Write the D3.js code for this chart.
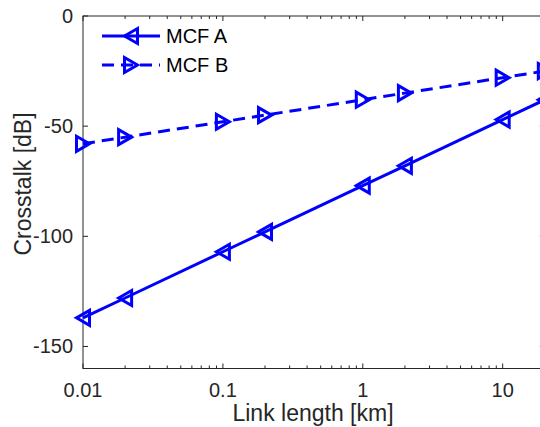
<!DOCTYPE html>
<html>
<head>
<meta charset="utf-8">
<script src="https://cdn.jsdelivr.net/npm/d3@7/dist/d3.min.js"></script>
<style>
  html, body { margin: 0; padding: 0; background: #fff; }
  svg { display: block; font-family: "Liberation Sans", Arial, sans-serif; }
</style>
</head>
<body>
<svg id="chart" width="540" height="427"></svg>
<script>
// ---- data ----
const linkLength = [0.01, 0.02, 0.1, 0.2, 1, 2, 10, 20];
const mcfA = [-137, -128, -107, -98, -77, -68, -47, -38];
const mcfB = [-58, -55, -48, -45, -38, -35, -28, -25];
const seriesNames = ["MCF A", "MCF B"];
const xTickValues = [0.01, 0.1, 1, 10];
const xTickLabels = ["0.01", "0.1", "1", "10"];
const yTickValues = [-150, -100, -50, 0];
const yTickLabels = ["-150", "-100", "-50", "0"];

// ---- layout ----
const svg = d3.select("#chart");
const L = 83, R = 544.8, T = 16, B = 368.5;
const x = d3.scaleLog().domain([0.01, 20]).range([L, R]);
const y = d3.scaleLinear().domain([-160, 0]).range([B, T]);
const axisColor = "#262626";
const blue = "#0000ff";

// minor ticks
const minor = [];
[0.01, 0.1, 1, 10].forEach(d => { for (let k = 2; k <= 9; k++) { const v = d * k; if (v <= 20) minor.push(v); } });

const g = svg.append("g");

// box
g.append("rect").attr("x", L).attr("y", T).attr("width", R - L).attr("height", B - T)
  .attr("fill", "none").attr("stroke", axisColor).attr("stroke-width", 1);

// x ticks (bottom and top, inward)
xTickValues.forEach(v => {
  g.append("line").attr("x1", x(v)).attr("x2", x(v)).attr("y1", B).attr("y2", B - 5).attr("stroke", axisColor);
  g.append("line").attr("x1", x(v)).attr("x2", x(v)).attr("y1", T).attr("y2", T + 5).attr("stroke", axisColor);
});
minor.forEach(v => {
  g.append("line").attr("x1", x(v)).attr("x2", x(v)).attr("y1", B).attr("y2", B - 3).attr("stroke", axisColor);
  g.append("line").attr("x1", x(v)).attr("x2", x(v)).attr("y1", T).attr("y2", T + 3).attr("stroke", axisColor);
});
xTickValues.forEach((v, i) => {
  g.append("text").attr("x", x(v)).attr("y", 397).attr("text-anchor", "middle")
    .attr("font-size", 20).attr("fill", axisColor).text(xTickLabels[i]);
});

// y ticks (left and right, inward)
yTickValues.forEach((v, i) => {
  g.append("line").attr("x1", L).attr("x2", L + 5).attr("y1", y(v)).attr("y2", y(v)).attr("stroke", axisColor);
  g.append("line").attr("x1", R).attr("x2", R - 5).attr("y1", y(v)).attr("y2", y(v)).attr("stroke", axisColor);
  g.append("text").attr("x", 73).attr("y", y(v)).attr("dy", "0.35em").attr("text-anchor", "end")
    .attr("font-size", 20).attr("fill", axisColor).text(yTickLabels[i]);
});

// axis labels
g.append("text").attr("x", 313).attr("y", 421).attr("text-anchor", "middle")
  .attr("font-size", 23).attr("fill", axisColor).text("Link length [km]");
g.append("text").attr("transform", "translate(31,184) rotate(-90)").attr("text-anchor", "middle")
  .attr("font-size", 23).attr("fill", axisColor).text("Crosstalk [dB]");

// markers
const triLeft = "M-6.5,0 L6.5,-7.5 L6.5,7.5 Z";
const triRight = "M6.5,0 L-6.5,-7.5 L-6.5,7.5 Z";

const line = d3.line().x(d => x(d[0])).y(d => y(d[1]));
const dataA = linkLength.map((v, i) => [v, mcfA[i]]);
const dataB = linkLength.map((v, i) => [v, mcfB[i]]);

const plot = g.append("g");
plot.append("path").datum(dataA).attr("d", line).attr("fill", "none")
  .attr("stroke", blue).attr("stroke-width", 3);
plot.append("path").datum(dataB).attr("d", line).attr("fill", "none")
  .attr("stroke", blue).attr("stroke-width", 3).attr("stroke-dasharray", "12,7");

plot.selectAll(".mA").data(dataA).enter().append("path")
  .attr("transform", d => `translate(${x(d[0])},${y(d[1])})`).attr("d", triLeft)
  .attr("fill", "none").attr("stroke", blue).attr("stroke-width", 3);
plot.selectAll(".mB").data(dataB).enter().append("path")
  .attr("transform", d => `translate(${x(d[0])},${y(d[1])})`).attr("d", triRight)
  .attr("fill", "none").attr("stroke", blue).attr("stroke-width", 3);

// legend
const leg = g.append("g");
const legY = [36, 65];
seriesNames.forEach((name, i) => {
  leg.append("line").attr("x1", 102).attr("x2", 160).attr("y1", legY[i]).attr("y2", legY[i])
    .attr("stroke", blue).attr("stroke-width", 3).attr("stroke-dasharray", i === 1 ? "12,7" : null);
  leg.append("path").attr("transform", `translate(131,${legY[i]})`).attr("d", i === 0 ? triLeft : triRight)
    .attr("fill", "none").attr("stroke", blue).attr("stroke-width", 3);
  leg.append("text").attr("x", 166).attr("y", legY[i]).attr("dy", "0.35em")
    .attr("font-size", 20).attr("fill", "#000").text(name);
});
</script>
</body>
</html>
